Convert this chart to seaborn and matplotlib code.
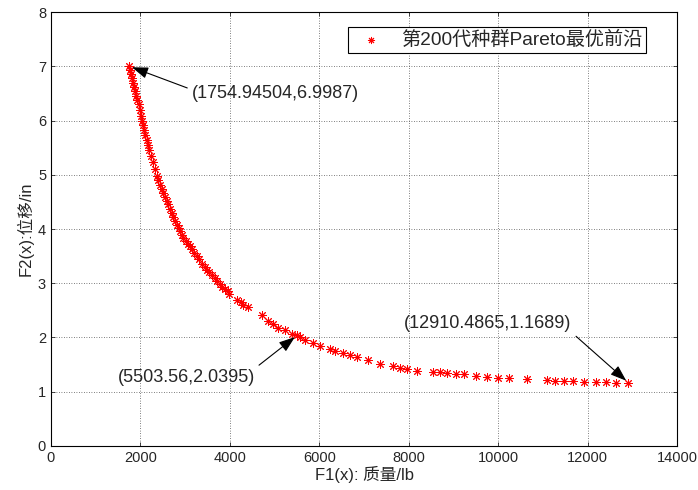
import numpy as np
import pandas as pd
import seaborn as sns
import matplotlib
matplotlib.use('Agg')
import matplotlib.pyplot as plt

# Pareto front data
f1_mass = [1755, 1775, 1795, 1815, 1840, 1860, 1885, 1910, 1935, 1960, 1985, 2010,
           2035, 2060, 2085, 2110, 2140, 2170, 2200, 2240, 2290, 2330, 2370, 2400,
           2440, 2480, 2510, 2550, 2590, 2620, 2670, 2710, 2740, 2780, 2820, 2860,
           2890, 2930, 2960, 3010, 3060, 3110, 3150, 3200, 3260, 3320, 3380, 3440,
           3490, 3540, 3600, 3660, 3720, 3780, 3830, 3890, 3950, 3990, 4160, 4240,
           4300, 4400, 4720, 4850, 4960, 5080, 5230, 5390, 5504, 5570, 5680, 5860,
           6020, 6240, 6350, 6530, 6690, 6840, 7090, 7360, 7650, 7810, 7960, 8190,
           8540, 8700, 8860, 9060, 9240, 9500, 9750, 10000, 10240, 10650, 11090,
           11270, 11470, 11670, 11920, 12190, 12410, 12640, 12910]
f2_disp = [6.9987, 6.93, 6.85, 6.78, 6.70, 6.62, 6.55, 6.46, 6.38, 6.30, 6.20, 6.08,
           6.00, 5.91, 5.82, 5.74, 5.64, 5.55, 5.45, 5.35, 5.24, 5.10, 4.98, 4.90,
           4.82, 4.74, 4.67, 4.59, 4.52, 4.46, 4.36, 4.29, 4.22, 4.14, 4.07, 4.01,
           3.96, 3.89, 3.84, 3.78, 3.73, 3.68, 3.63, 3.56, 3.50, 3.44, 3.36, 3.30,
           3.25, 3.21, 3.16, 3.10, 3.04, 2.98, 2.94, 2.89, 2.85, 2.81, 2.69, 2.65,
           2.60, 2.56, 2.41, 2.30, 2.24, 2.18, 2.13, 2.07, 2.0395, 2.00, 1.95, 1.89,
           1.85, 1.79, 1.76, 1.71, 1.67, 1.64, 1.58, 1.52, 1.47, 1.44, 1.42, 1.39,
           1.37, 1.355, 1.34, 1.33, 1.32, 1.29, 1.28, 1.26, 1.25, 1.23, 1.21,
           1.205, 1.20, 1.19, 1.185, 1.18, 1.175, 1.17, 1.1689]

legend_label = '第200代种群Pareto最优前沿'
x_label = 'F1(x): 质量/lb'
y_label = 'F2(x):位移/in'
x_ticks = [0, 2000, 4000, 6000, 8000, 10000, 12000, 14000]
y_ticks = [0, 1, 2, 3, 4, 5, 6, 7, 8]

# annotated points: point, text position, label, arrow start on text box, alignment
notes = [((1754.94504, 6.9987), (3150, 6.49), '(1754.94504,6.9987)', (0, 0.75), 'left'),
         ((5503.56, 2.0395), (3020, 1.27), '(5503.56,2.0395)', (1, 1), 'center'),
         ((12910.4865, 1.1689), (9773, 2.25), '(12910.4865,1.1689)', (1, 0), 'center')]

sns.set_style('ticks')
plt.rcParams['font.family'] = ['Liberation Sans', 'Noto Sans CJK SC', 'DejaVu Sans']
plt.rcParams['axes.unicode_minus'] = False

df = pd.DataFrame({'F1': f1_mass, 'F2': f2_disp})

fig = plt.figure(figsize=(6.98, 4.9), dpi=100)
ax = fig.add_axes([0.073, 0.0898, 0.897, 0.8857])

sns.scatterplot(data=df, x='F1', y='F2', marker=(8, 2, 0), color='red',
                s=32, linewidth=0.7, label=legend_label, ax=ax)

ax.set_xlim(0, 14000)
ax.set_ylim(0, 8)
ax.set_xticks(x_ticks)
ax.set_yticks(y_ticks)
ax.tick_params(direction='in', top=True, right=True, labelsize=10.5, length=3, width=0.6)
for s in ax.spines.values():
    s.set_linewidth(0.8)
    s.set_color('black')
ax.grid(True, linestyle=(0, (1, 2)), color='#555555', linewidth=0.6)
ax.set_xlabel(x_label, fontsize=12, labelpad=1)
ax.set_ylabel(y_label, fontsize=12, labelpad=3)

leg = ax.legend(loc='upper right', bbox_to_anchor=(0.951, 0.965), fontsize=13.8,
                fancybox=False, framealpha=1, edgecolor='black', borderpad=0.2,
                handletextpad=0.6, markerscale=0.8, borderaxespad=0)
leg.get_frame().set_linewidth(0.8)

for pt, txt_pos, txt, rp, ha in notes:
    ax.annotate(txt, xy=pt, xytext=txt_pos, fontsize=13, ha=ha, va='center',
                arrowprops=dict(arrowstyle='-|>,head_length=0.7,head_width=0.25',
                                color='black', lw=0.8, relpos=rp,
                                shrinkA=1, shrinkB=2, mutation_scale=14))

fig.savefig('out.png', dpi=100)
